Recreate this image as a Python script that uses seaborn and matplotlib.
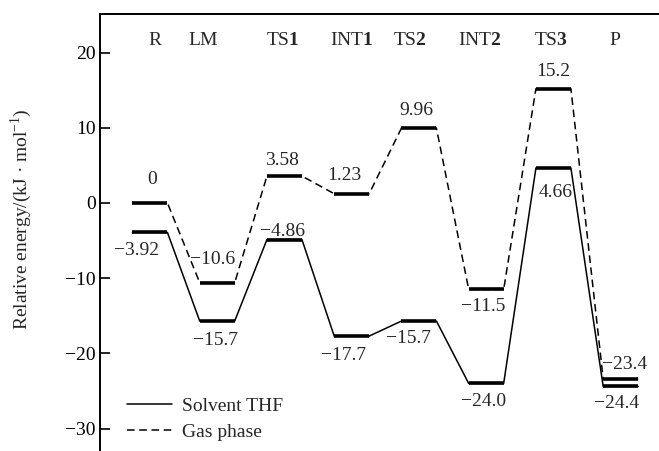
import numpy as np
import pandas as pd
import matplotlib
matplotlib.use("Agg")
import matplotlib.pyplot as plt
import seaborn as sns

# species along the reaction path (bold digit in the label)
species = ["R", "LM", "TS$\\mathbf{1}$", "INT$\\mathbf{1}$", "TS$\\mathbf{2}$",
           "INT$\\mathbf{2}$", "TS$\\mathbf{3}$", "P"]
solvent_thf = [-3.92, -15.7, -4.86, -17.7, -15.7, -24.0, 4.66, -24.4]
gas_phase = [0.0, -10.6, 3.58, 1.23, 9.96, -11.5, 15.2, -23.4]

sns.set_theme(style="white")
plt.rcParams["font.family"] = ["Liberation Serif", "DejaVu Serif"]
plt.rcParams["mathtext.fontset"] = "custom"
plt.rcParams["mathtext.rm"] = "Liberation Serif"
plt.rcParams["mathtext.bf"] = "Liberation Serif:bold"

half = 0.26  # half width of each energy level


def path_frame(values, name):
    rows = []
    for i, v in enumerate(values):
        rows.append((i - half, v, name, 2 * i))
        rows.append((i + half, v, name, 2 * i + 1))
    return pd.DataFrame(rows, columns=["x", "E", "phase", "order"])


df = pd.concat([path_frame(solvent_thf, "Solvent THF"),
                path_frame(gas_phase, "Gas phase")], ignore_index=True)

fig = plt.figure(figsize=(6.59, 4.51), dpi=100)
ax = fig.add_axes([100 / 659, 0, 559 / 659, 437 / 451])

sns.lineplot(data=df, x="x", y="E", style="phase", units="phase", estimator=None,
             sort=False, color="black", lw=1.1,
             dashes={"Solvent THF": "", "Gas phase": (5, 3)}, ax=ax)

pos = np.arange(len(species))
ax.hlines(solvent_thf, pos - half, pos + half, color="black", lw=2.6)
ax.hlines(gas_phase, pos - half, pos + half, color="black", lw=2.6)


def fmt(v):
    s = "0" if v == 0 else f"{v:#.3g}"
    return s.replace("-", "\u2212")


# label offsets in pixels (dx, dy, ha)
gas_off = [(2, 23, "center"), (-5, 23, "center"), (-2, 16, "center"), (-7, 18, "center"),
           (-3, 18, "center"), (-3, -17, "center"), (0, 17, "center"), (-19, 14, "left")]
thf_off = [(-13, -18, "center"), (-2, -19, "center"), (-2, 8, "center"), (-8, -19, "center"),
           (-10, -17, "center"), (-3, -18, "center"), (2, -25, "center"), (-4, -17, "center")]

for i, v in enumerate(gas_phase):
    dx, dy, ha = gas_off[i]
    ax.annotate(fmt(v), (i, v), xytext=(dx, dy), textcoords="offset pixels",
                ha=ha, va="center", fontsize=14, annotation_clip=False)
for i, v in enumerate(solvent_thf):
    dx, dy, ha = thf_off[i]
    ax.annotate(fmt(v), (i, v), xytext=(dx, dy), textcoords="offset pixels",
                ha=ha, va="center", fontsize=14, annotation_clip=False)

name_dx = [0.07, -0.21, -0.02, 0.0, -0.14, -0.1, -0.03, -0.09]
for i, name in enumerate(species):
    ax.text(i + name_dx[i], 21.6, name, ha="center", va="center", fontsize=14)

ax.set_xlim(-0.743, 7.57)
ax.set_ylim(-32.98, 25.13)
ax.set_yticks([-30, -20, -10, 0, 10, 20])
ax.set_xticks([])
ax.set_xlabel("")
ax.set_ylabel("Relative energy/(kJ \u00b7 mol$^{-1}$)", fontsize=14)
ax.yaxis.set_label_coords(-0.118, 0.53)
ax.tick_params(axis="y", direction="in", length=7, width=1.2, labelsize=14,
               left=True, pad=3, colors="black")
ax.spines["right"].set_visible(False)
ax.spines["bottom"].set_visible(False)
for s in ["left", "top"]:
    ax.spines[s].set_color("black")
    ax.spines[s].set_linewidth(1.4)

leg = ax.legend(loc="lower left", bbox_to_anchor=(0.035, 0.005), frameon=False,
                fontsize=14, handlelength=2.3, labelspacing=0.45, handletextpad=0.5,
                borderaxespad=0)
for line in leg.get_lines():
    line.set_color("black")
    line.set_linewidth(1.1)

fig.savefig("out.png", dpi=100)
